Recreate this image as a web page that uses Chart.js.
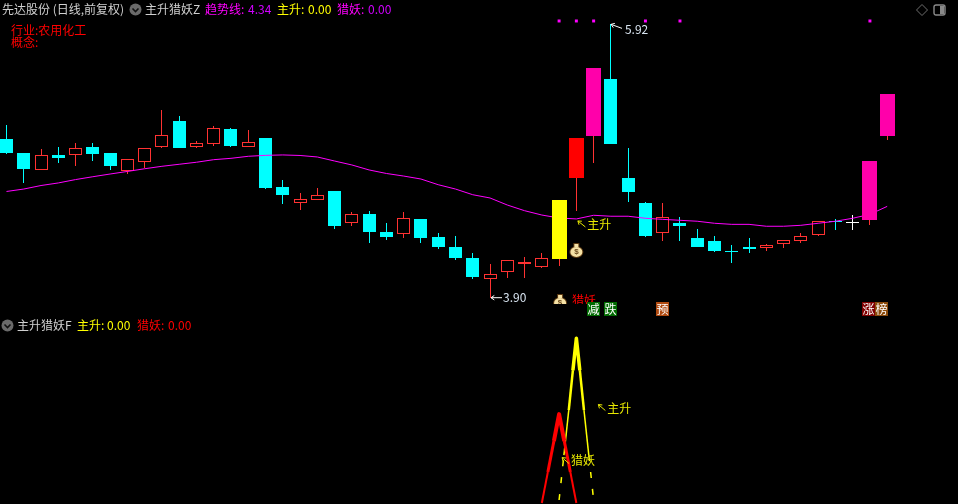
<!DOCTYPE html>
<html>
<head>
<meta charset="utf-8">
<title>先达股份</title>
<script src="https://cdn.jsdelivr.net/npm/chart.js@4/dist/chart.umd.min.js"></script>
<style>
html, body { margin: 0; padding: 0; background: #000; overflow: hidden; }
#wrap { position: relative; width: 958px; height: 504px; background: #000; font: 12px "Noto Sans CJK SC", "Noto Sans", sans-serif; }
canvas { position: absolute; left: 0; display: block; }
#kline { top: 0; }
#sub { top: 315px; }
.t { position: absolute; white-space: nowrap; line-height: 16px; height: 16px; }
.w { color: #d0d0d0; }
.m { color: #ff00ff; }
.v { color: #d000ff; }
.y { color: #ffff00; }
.r { color: #ff0000; }
svg { position: absolute; }
</style>
</head>
<body>
<div id="wrap">
  <canvas id="kline" width="958" height="318"></canvas>
  <canvas id="sub" width="958" height="189"></canvas>

  <span class="t w" style="left:2px;top:1px">先达股份 (日线,前复权)</span>
  <svg style="left:129px;top:3px" width="13" height="13"><circle cx="6.5" cy="6.5" r="6" fill="#6a6a6a"/><path d="M3.5 5.5 L6.5 8.5 L9.5 5.5" stroke="#111" stroke-width="1.6" fill="none"/></svg>
  <span class="t w" style="left:145px;top:1px">主升猎妖Z</span>
  <span class="t m" style="left:205px;top:1px">趋势线:</span>
  <span class="t v" style="left:248px;top:1px">4.34</span>
  <span class="t y" style="left:277px;top:1px">主升:</span>
  <span class="t y" style="left:308px;top:1px">0.00</span>
  <span class="t m" style="left:337px;top:1px">猎妖:</span>
  <span class="t v" style="left:368px;top:1px">0.00</span>
  <span class="t r" style="left:11px;top:22px">行业:农用化工</span>
  <span class="t r" style="left:11px;top:34px">概念:</span>
  <svg style="left:915px;top:3px" width="14" height="14"><path d="M7 1.5 L12.5 7 L7 12.5 L1.5 7 Z" stroke="#6e6e6e" fill="none"/></svg>
  <svg style="left:933px;top:4px" width="14" height="13"><rect x="1" y="1" width="11" height="10" rx="2" stroke="#8a8a8a" fill="none" stroke-width="1.4"/><rect x="7" y="2" width="4" height="8" fill="#8a8a8a"/></svg>

  <svg style="left:1px;top:319px" width="13" height="13"><circle cx="6.5" cy="6.5" r="6" fill="#6a6a6a"/><path d="M3.5 5.5 L6.5 8.5 L9.5 5.5" stroke="#111" stroke-width="1.6" fill="none"/></svg>
  <span class="t w" style="left:17px;top:317px">主升猎妖F</span>
  <span class="t y" style="left:77px;top:317px">主升:</span>
  <span class="t y" style="left:107px;top:317px">0.00</span>
  <span class="t r" style="left:137px;top:317px">猎妖:</span>
  <span class="t r" style="left:168px;top:317px">0.00</span>
</div>

<script>
// price data
const days = [];
for (let d = 0; d < 52; d++) days.push(d);

const opens = [5.073,4.969,4.844,4.955,4.955,5.014,4.969,4.836,4.903,5.014,5.206,5.014,5.036,5.147,5.014,5.080,4.718,4.600,4.622,4.689,4.452,4.519,4.386,4.371,4.482,4.349,4.275,4.193,4.038,4.090,4.149,4.127,4.186,4.785,5.095,5.516,4.785,4.600,4.378,4.452,4.341,4.319,4.245,4.275,4.267,4.297,4.319,4.363,4.467,4.459,4.474,5.095];
const highs = [5.176,4.969,4.999,5.014,5.043,5.043,4.969,4.925,5.006,5.287,5.243,5.058,5.169,5.154,5.139,5.080,4.770,4.674,4.711,4.689,4.533,4.541,4.452,4.533,4.482,4.378,4.356,4.230,4.149,4.179,4.201,4.230,4.622,5.080,5.597,5.92,5.006,4.607,4.600,4.496,4.408,4.356,4.289,4.341,4.297,4.326,4.378,4.467,4.482,4.511,4.910,5.405];
const lows = [4.962,4.748,4.844,4.895,4.873,4.910,4.844,4.814,4.858,5.006,5.006,5.006,5.021,5.014,5.014,4.703,4.592,4.548,4.622,4.408,4.430,4.304,4.326,4.341,4.304,4.260,4.179,4.038,3.90,4.046,4.046,4.119,4.134,4.541,4.895,5.036,4.607,4.349,4.319,4.319,4.275,4.238,4.156,4.230,4.245,4.267,4.304,4.356,4.400,4.400,4.437,5.065];
const closes = [4.969,4.851,4.955,4.932,5.006,4.962,4.873,4.925,5.006,5.102,5.006,5.043,5.154,5.021,5.051,4.711,4.659,4.629,4.659,4.430,4.519,4.386,4.349,4.489,4.341,4.275,4.193,4.053,4.075,4.179,4.164,4.193,4.622,5.080,5.597,5.036,4.681,4.356,4.496,4.430,4.275,4.245,4.238,4.260,4.289,4.326,4.356,4.467,4.459,4.459,4.910,5.405];
const trendLine = [4.685,4.703,4.729,4.748,4.773,4.794,4.814,4.833,4.853,4.871,4.886,4.901,4.920,4.930,4.945,4.952,4.955,4.951,4.940,4.910,4.881,4.844,4.818,4.799,4.777,4.735,4.703,4.661,4.637,4.585,4.543,4.511,4.489,4.482,4.509,4.502,4.502,4.487,4.479,4.472,4.465,4.450,4.442,4.442,4.428,4.428,4.435,4.450,4.465,4.487,4.516,4.575];

// signal days
const mainRiseDays = [32];
const limitRedDays = [33];
const huntDays = [34, 50, 51];
const dotDays = [32, 33, 34, 37, 39, 50];
const dotLevel = 5.945;

// price notes and badges
const noteDays = [28, 35];
const noteValues = [3.90, 5.92];
const badgeDays = [34, 35, 38, 50, 51];
const badgeTexts = ['减', '跌', '预', '涨', '榜'];

// lower panel spikes, traced along their slopes
const yellowDays = [32, 32.28, 32.56, 32.8, 33, 33.2, 33.44, 33.72, 34];
const yellowValues = [2.4, 29.5, 56.6, 80.7, 100, 80.7, 56.6, 29.5, 2.4];
const redDays = [31, 31.35, 31.7, 32, 32.3, 32.65, 33];
const redValues = [0.6, 19.3, 38, 54.2, 38, 19.3, 0.6];

const UP = '#ff3232', DOWN = '#00ffff', FLAT = '#ffffff', BLACK = '#000000';
const PINK = '#ff00aa';
const FONT = '12px "Noto Sans CJK SC", "Noto Sans", sans-serif';

function candleColor(i) {
    if (closes[i] > opens[i]) return UP;
    if (closes[i] < opens[i]) return DOWN;
    return FLAT;
}

function pick(list) {
    return list.map(function(d) { return {x: d, y: [opens[d], closes[d]]}; });
}

// same x mapping for both panels, first candle is cut by the left edge
const xAxis = {type: 'linear', display: false, offset: false, min: -0.376, max: 55.1, grid: {display: false}};

// keep bars on whole pixels like the original
const snapBars = {
    id: 'snapBars',
    beforeDatasetsDraw: function(chart) {
        chart.getSortedVisibleDatasetMetas().forEach(function(meta) {
            if (meta.type !== 'bar') return;
            meta.data.forEach(function(el) {
                let top = Math.round(Math.min(el.y, el.base));
                let bottom = Math.max(top + 1, Math.round(Math.max(el.y, el.base)));
                el.x = Math.floor(el.x) + 0.5;
                el.y = top;
                el.base = bottom;
                el.height = bottom - top;
            });
        });
    }
};

function arrow(ctx, x1, y1, x2, y2, color) {
    let a = Math.atan2(y2 - y1, x2 - x1);
    ctx.strokeStyle = color;
    ctx.lineWidth = 1;
    ctx.beginPath();
    ctx.moveTo(x1, y1);
    ctx.lineTo(x2, y2);
    ctx.moveTo(x1 + 4 * Math.cos(a + 0.6), y1 + 4 * Math.sin(a + 0.6));
    ctx.lineTo(x1, y1);
    ctx.lineTo(x1 + 4 * Math.cos(a - 0.6), y1 + 4 * Math.sin(a - 0.6));
    ctx.stroke();
}

function label(ctx, text, x, y, color) {
    ctx.font = FONT;
    ctx.textBaseline = 'middle';
    ctx.textAlign = 'left';
    ctx.fillStyle = color;
    ctx.fillText(text, x, y);
}

function bag(ctx, cx, cy) {
    ctx.fillStyle = '#5c3a12';
    ctx.beginPath();
    ctx.ellipse(cx, cy + 2, 7, 6, 0, 0, Math.PI * 2);
    ctx.fill();
    ctx.fillRect(cx - 3, cy - 7, 6, 5);
    ctx.fillStyle = '#f6e2a6';
    ctx.beginPath();
    ctx.ellipse(cx, cy + 2, 6, 5, 0, 0, Math.PI * 2);
    ctx.fill();
    ctx.fillRect(cx - 2, cy - 6, 4, 3);
    ctx.fillStyle = '#6b4a1c';
    ctx.font = 'bold 8px "Liberation Sans"';
    ctx.textAlign = 'center';
    ctx.textBaseline = 'middle';
    ctx.fillText('$', cx, cy + 2);
}

const klineNotes = {
    id: 'klineNotes',
    afterDraw: function(chart) {
        const ctx = chart.ctx, sx = chart.scales.x, sy = chart.scales.y;
        ctx.save();

        // lowest and highest price marks
        let lowX = sx.getPixelForValue(noteDays[0]), lowY = sy.getPixelForValue(noteValues[0]);
        arrow(ctx, Math.floor(lowX) + 1, lowY, Math.floor(lowX) + 12, lowY, '#ffffff');
        label(ctx, noteValues[0].toFixed(2), lowX + 13, lowY, '#d8e4f0');
        let highX = sx.getPixelForValue(noteDays[1]), highY = sy.getPixelForValue(noteValues[1]);
        arrow(ctx, Math.floor(highX) + 1, highY, Math.floor(highX) + 12, highY + 4, '#ffffff');
        label(ctx, noteValues[1].toFixed(2), highX + 14, highY + 5, '#d8e4f0');

        // 主升 signal
        let riseX = sx.getPixelForValue(mainRiseDays[0] + 1);
        let riseY = sy.getPixelForValue(trendLine[33]);
        arrow(ctx, riseX + 1.5, riseY + 2, riseX + 9, riseY + 8, '#e8e800');
        label(ctx, '主升', riseX + 11, riseY + 5, '#e8e800');
        bag(ctx, riseX, sy.getPixelForValue(opens[32]) - 9);

        // 猎妖 signal is cut by the panel edge
        ctx.save();
        ctx.beginPath();
        ctx.rect(0, 0, 958, 304);
        ctx.clip();
        bag(ctx, sx.getPixelForValue(32) + 1, 301);
        label(ctx, '猎妖', sx.getPixelForValue(32) + 13, 300, '#ff0000');
        ctx.restore();

        // badges along the bottom of the panel
        const fills = ['#006a00', '#006a00', '#b04a10', '#800000', '#8a4a0a'];
        const shifts = [0, 0, 0, -1, -6];
        badgeDays.forEach(function(d, i) {
            let bx = Math.floor(sx.getPixelForValue(d)) + shifts[i] - 6;
            ctx.fillStyle = fills[i];
            ctx.fillRect(bx, 302, 13, 14);
            ctx.font = FONT;
            ctx.textBaseline = 'middle';
            ctx.textAlign = 'center';
            ctx.fillStyle = '#ffffff';
            ctx.fillText(badgeTexts[i], bx + 6.5, 309);
        });
        ctx.restore();
    }
};

const subNotes = {
    id: 'subNotes',
    afterDraw: function(chart) {
        const ctx = chart.ctx, sx = chart.scales.x, sy = chart.scales.y;
        ctx.save();
        let yx = sx.getPixelForValue(33) + 22, yy = sy.getPixelForValue(60);
        arrow(ctx, yx, yy, yx + 7, yy + 6, '#e8e800');
        label(ctx, '主升', yx + 9, yy + 4, '#e8e800');
        let rx = sx.getPixelForValue(32) + 3, ry = sy.getPixelForValue(28);
        arrow(ctx, rx, ry, rx + 7, ry + 6, '#e8e800');
        label(ctx, '猎妖', rx + 9, ry + 3, '#e8e800');
        ctx.restore();
    }
};

new Chart(document.getElementById('kline').getContext('2d'), {
    type: 'bar',
    data: {
        datasets: [
            {
                label: 'dots', type: 'line', order: 0, showLine: false,
                data: dotDays.map(function(d) { return {x: d, y: dotLevel}; }),
                pointStyle: 'rect', pointRadius: 2.1, pointBackgroundColor: '#ff00ff', pointBorderWidth: 0
            },
            {
                label: 'main rise', order: 1, barThickness: 15, inflateAmount: 0, borderWidth: 0,
                backgroundColor: '#ffff00', grouped: false, data: pick(mainRiseDays)
            },
            {
                label: 'limit', order: 1, barThickness: 15, inflateAmount: 0, borderWidth: 0,
                backgroundColor: '#ff0000', grouped: false, data: pick(limitRedDays)
            },
            {
                label: 'hunt', order: 1, barThickness: 15, inflateAmount: 0, borderWidth: 0,
                backgroundColor: PINK, grouped: false, data: pick(huntDays)
            },
            {
                label: 'trend', type: 'line', order: 2,
                data: days.map(function(d) { return {x: d, y: trendLine[d]}; }),
                borderColor: '#ff00ff', borderWidth: 1, pointRadius: 0, tension: 0
            },
            {
                label: 'bodies', order: 3, barThickness: 13, inflateAmount: 0, grouped: false, borderSkipped: false,
                data: days.map(function(d) { return {x: d, y: [opens[d], closes[d]]}; }),
                backgroundColor: days.map(function(d) { return candleColor(d) === UP ? BLACK : candleColor(d); }),
                borderColor: days.map(candleColor),
                borderWidth: days.map(function(d) { return candleColor(d) === UP ? 1 : 0; })
            },
            {
                label: 'wicks', order: 4, barThickness: 1, inflateAmount: 0, grouped: false, borderWidth: 0,
                data: days.map(function(d) { return {x: d, y: [lows[d], highs[d]]}; }),
                backgroundColor: days.map(candleColor)
            }
        ]
    },
    options: {
        responsive: false,
        animation: false,
        devicePixelRatio: 1,
        layout: {padding: 0, autoPadding: false},
        plugins: {legend: {display: false}, tooltip: {enabled: false}},
        scales: {
            x: xAxis,
            y: {display: false, min: 3.75, max: 6.10, grid: {display: false}}
        }
    },
    plugins: [snapBars, klineNotes]
});

new Chart(document.getElementById('sub').getContext('2d'), {
    type: 'line',
    data: {
        datasets: [
            {
                label: '猎妖',
                data: redDays.map(function(d, i) { return {x: d, y: redValues[i]}; }),
                borderColor: '#ff0000', pointRadius: 0, tension: 0, borderJoinStyle: 'round',
                segment: {
                    borderWidth: function(c) { return [2, 3, 4, 4, 3, 2][c.p0DataIndex]; }
                }
            },
            {
                label: '主升',
                data: yellowDays.map(function(d, i) { return {x: d, y: yellowValues[i]}; }),
                borderColor: '#ffff00', pointRadius: 0, tension: 0, borderJoinStyle: 'round',
                segment: {
                    borderWidth: function(c) { return [1.5, 1.5, 2.5, 3.5, 3.5, 2.5, 1.5, 1.5][c.p0DataIndex]; },
                    borderDash: function(c) { return (c.p0DataIndex === 0 || c.p0DataIndex === 7) ? [6, 11] : []; }
                }
            }
        ]
    },
    options: {
        responsive: false,
        animation: false,
        devicePixelRatio: 1,
        layout: {padding: 0, autoPadding: false},
        plugins: {legend: {display: false}, tooltip: {enabled: false}},
        scales: {
            x: xAxis,
            y: {display: false, min: 0, max: 114, grid: {display: false}}
        }
    },
    plugins: [subNotes]
});
</script>
</body>
</html>
